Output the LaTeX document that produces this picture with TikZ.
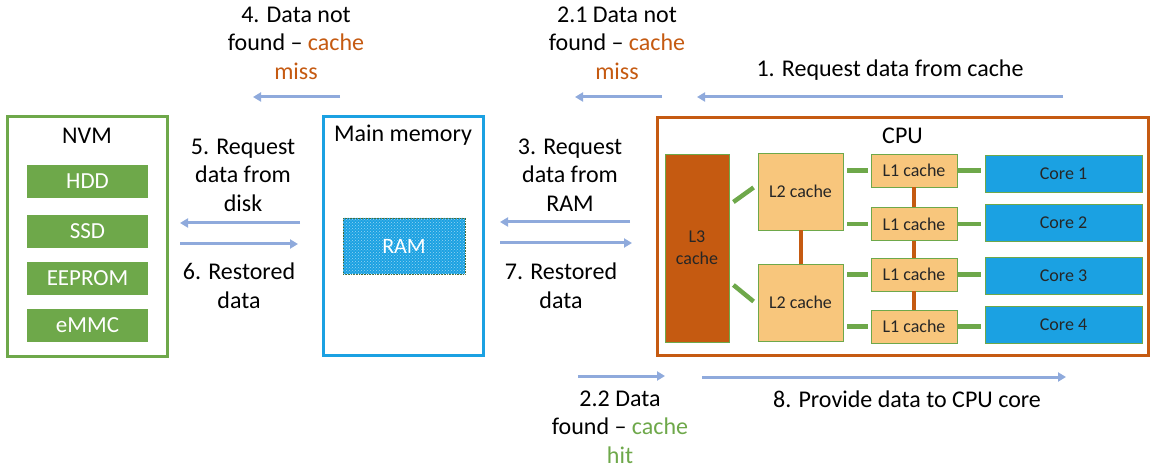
\documentclass[tikz,border=0pt]{standalone}
\usepackage{fontspec}
\setmainfont{Carlito}
\usetikzlibrary{arrows.meta,calc,patterns}
\definecolor{cpuorange}{HTML}{C55A11}
\definecolor{cachefill}{HTML}{F8C67C}
\definecolor{hitgreen}{HTML}{6EA84A}
\definecolor{coreblue}{HTML}{1BA1E2}
\definecolor{flowblue}{HTML}{8FAADC}
\definecolor{boxtext}{HTML}{262626}

\begin{document}
\begin{tikzpicture}[x=1pt, y=-1pt,
  lbl/.style={align=center, inner sep=0pt, font=\fontsize{24}{28.5}\selectfont},
  flow/.style={flowblue, line width=3pt, -{Triangle[width=9pt,length=8pt]}},
  unit/.style={draw=#1, line width=3pt, inner sep=0pt},
  disk/.style={fill=hitgreen, text=white, minimum width=121pt, minimum height=33pt, inner sep=0pt, font=\fontsize{23}{27}\selectfont},
  cachebox/.style={fill=cachefill, draw=hitgreen, line width=0.8pt, inner sep=0pt, align=center, text=boxtext, font=\fontsize{18}{22}\selectfont},
  corebox/.style={fill=coreblue, draw=hitgreen, line width=0.8pt, inner sep=0pt, text=boxtext, minimum width=157pt, minimum height=37pt, font=\fontsize{18}{22}\selectfont},
  link/.style={hitgreen, line width=4.5pt, shorten <=3pt, shorten >=4pt},
  bus/.style={cpuorange, line width=4pt}]
\useasboundingbox (0,0) rectangle (1158,470);

% NVM side
\node[unit=hitgreen, minimum width=160pt, minimum height=239pt] (nvm) at (87,236.5) {};
\node[lbl] (nvmlab) at ([yshift=-20pt]nvm.north) {NVM};
\foreach \lab/\y [count=\i] in {HDD/181.5, SSD/231.5, EEPROM/278, eMMC/325.5}
  \node[disk] (disk\i) at (87.5,\y) {\lab};

% main memory
\node[unit=coreblue, minimum width=160pt, minimum height=238pt] (mem) at (403,236) {};
\node[lbl] (memlab) at ([yshift=-20pt]mem.north) {Main memory};
\node[fill=coreblue, draw=hitgreen!60!black, densely dotted, line width=0.6pt,
  postaction={pattern=crosshatch dots, pattern color=white!55!coreblue},
  minimum width=122pt, minimum height=56pt, inner sep=0pt, text=white,
  font=\fontsize{22}{26}\selectfont] (ram) at (404,246) {RAM};

% CPU
\node[unit=cpuorange, minimum width=491pt, minimum height=237pt] (cpu) at (902.5,236.5) {};
\node[lbl] (cpulab) at ([yshift=-19pt]cpu.north) {CPU};
\node[cachebox, fill=cpuorange, minimum width=64pt, minimum height=188pt] (l3) at (697,248) {L3\\cache};
\node[cachebox, minimum width=85pt, minimum height=77pt] (l2a) at (800.5,191.5) {L2 cache};
\node[cachebox, minimum width=85pt, minimum height=77pt] (l2b) at (800.5,302.5) {L2 cache};
\foreach \y [count=\i] in {170.5, 224, 274.5, 326.5}
  \node[cachebox, minimum width=86pt, minimum height=33pt] (l1\i) at (914,\y) {L1 cache};
\foreach \y [count=\i] in {173.5, 222.5, 276, 325}
  \node[corebox] (core\i) at (1063.5,\y) {Core \i};

% links inside CPU
\draw[link, shorten <=0pt, shorten >=0pt] ($(l3.east)+(4,-46)$) -- ($(l2a.west)+(-4,-4)$);
\draw[link, shorten <=0pt, shorten >=0pt] ($(l3.east)+(4,37)$) -- ($(l2b.west)+(-4,-1)$);
\foreach \i/\j in {1/a, 2/a, 3/b, 4/b}
  \draw[link] (l1\i.west) -- (l1\i.west -| l2\j.east);
\foreach \i in {1,...,4}
  \draw[link, shorten <=1pt] (l1\i.east) -- (l1\i.east -| core\i.west);
\draw[bus] (l2a.south) -- (l2b.north);
\draw[bus] (l11.south) -- (l12.north);
\draw[bus] (l12.south) -- (l13.north);
\draw[bus] (l13.south) -- (l14.north);

% arrow ends
\coordinate (a1s) at (1063,97);  \coordinate (a1e) at (697,97);
\coordinate (a21s) at (662,97);  \coordinate (a21e) at (575,97);
\coordinate (a4s) at (340,97);   \coordinate (a4e) at (253,97);
\coordinate (a3s) at (630,222);  \coordinate (a3e) at (500,222);
\coordinate (a7s) at (500,243);  \coordinate (a7e) at (632,243);
\coordinate (a5s) at (300,223);  \coordinate (a5e) at (180,223);
\coordinate (a6s) at (180,244);  \coordinate (a6e) at (298,244);
\coordinate (a22s) at (578,376); \coordinate (a22e) at (665,376);
\coordinate (a8s) at (702,377);  \coordinate (a8e) at (1066,377);
\foreach \a in {a1, a21, a4, a3, a7, a5, a6, a22, a8}
  \draw[flow] (\a s) -- (\a e);

% labels
\node[lbl] (t1) at (890,70) {1. Request data from cache};
\node[lbl] (t21) at (617,43) {2.1 Data not\\found – \textcolor{cpuorange}{cache}\\\textcolor{cpuorange}{miss}};
\node[lbl] (t4) at (296,43) {4. Data not\\found – \textcolor{cpuorange}{cache}\\\textcolor{cpuorange}{miss}};
\node[lbl] (t5) at (243,175) {5. Request\\data from\\disk};
\node[lbl] (t6) at (239,286) {6. Restored\\data};
\node[lbl] (t3) at (570,175) {3. Request\\data from\\RAM};
\node[lbl] (t7) at (561,286) {7. Restored\\data};
\node[lbl] (t22) at (620,427) {2.2 Data\\found – \textcolor{hitgreen}{cache}\\\textcolor{hitgreen}{hit}};
\node[lbl] (t8) at (907,399) {8. Provide data to CPU core};
\end{tikzpicture}
\end{document}
